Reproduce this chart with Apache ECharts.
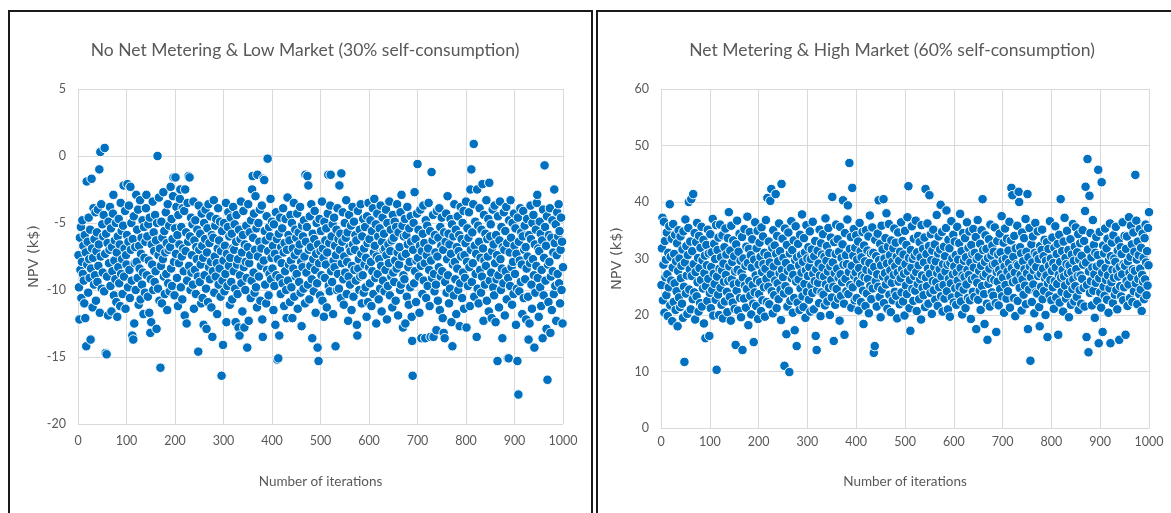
<!DOCTYPE html>
<html>
<head>
<meta charset="utf-8">
<script src="https://cdn.jsdelivr.net/npm/echarts@6/dist/echarts.min.js"></script>
<style>
html,body{margin:0;padding:0;background:#fff;}
#chart{width:1171px;height:513px;}
</style>
</head>
<body>
<div id="chart"></div>
<script>
// Titles and labels
var titleLeft = "No Net Metering & Low Market (30% self-consumption)";
var titleRight = "Net Metering & High Market (60% self-consumption)";
var xAxisName = "Number of iterations";
var yAxisName = "NPV (k$)";
var xTicks = [0,100,200,300,400,500,600,700,800,900,1000];
var yTicksLeft = [-20,-15,-10,-5,0,5];
var yTicksRight = [0,10,20,30,40,50,60];

// NPV (k$) per iteration, left chart (iterations 1..1000)
var npvLow = [
-7.4,-9.8,-12.2,-6.1,-8.5,-5.3,-10.6,-7.9,-4.8,-8.8,
-6.7,-9.3,-11.0,-5.9,-12.1,-7.2,-14.2,-1.9,-8.1,-6.4,
-10.2,-4.6,-7.7,-9.1,-5.5,-13.7,-8.4,-1.7,-6.9,-11.3,
-7.6,-3.9,-9.6,-6.2,-8.9,-4.2,-10.8,-7.1,-5.7,-9.4,
-4.0,-8.2,-6.6,-1.0,-11.7,0.3,-7.5,-3.6,-9.9,-5.1,
-8.7,-6.0,-4.4,-10.1,0.6,-7.3,-14.7,-5.8,-14.8,-9.0,
-6.5,-11.9,-4.9,-8.0,-7.0,-3.8,-9.7,-5.4,-11.6,-6.8,
-8.6,-4.3,-2.9,-10.4,-7.8,-6.3,-9.2,-5.0,-10.9,-7.2,
-12.0,-6.0,-8.3,-4.7,-9.5,-6.6,-11.2,-3.5,-8.8,-5.6,
-7.7,-10.3,-5.2,-2.2,-9.0,-6.9,-4.1,-11.4,-7.4,-8.1,
-5.9,-2.1,-9.8,-6.4,-3.7,-8.5,-10.6,-2.3,-7.0,-5.0,
-9.3,-13.4,-6.2,-13.7,-4.5,-12.5,-8.0,-6.8,-10.0,-2.9,
-7.9,-5.5,-9.1,-4.0,-11.1,-6.7,-8.4,-3.3,-10.7,-7.3,
-6.1,-9.6,-4.8,-8.7,-11.8,-5.3,-7.6,-10.2,-6.4,-3.9,
-2.9,-8.9,-6.0,-10.5,-5.1,-7.8,-11.7,-4.6,-13.2,-9.2,
-12.4,-6.6,-8.1,-3.4,-10.0,-5.7,-7.1,-9.4,-4.4,-8.6,
-6.3,-12.9,-5.0,0.0,-9.9,-7.4,-3.1,-10.8,-6.9,-15.8,
-8.2,-4.9,-11.0,-6.1,-7.7,-2.7,-9.0,-5.6,-10.3,-7.2,
-4.2,-8.8,-6.5,-11.5,-3.6,-9.5,-7.0,-5.2,-10.1,-6.8,
-2.3,-8.4,-4.7,-9.7,-6.2,-3.0,-1.6,-7.9,-10.4,-5.4,
-1.6,-7.3,-3.8,-9.1,-5.9,-11.2,-4.4,-8.0,-6.6,-3.2,
-2.5,-9.8,-5.3,-7.5,-10.7,-3.9,-6.9,-8.6,-4.1,-11.9,
-2.5,-7.1,-5.7,-12.5,-9.3,-3.5,-6.4,-1.5,-8.2,-1.6,
-6.0,-10.0,-4.6,-8.7,-7.4,-5.1,-9.6,-3.4,-11.4,-6.3,
-8.5,-4.8,-10.3,-6.8,-7.7,-5.5,-9.0,-14.6,-3.7,-7.0,
-9.4,-5.8,-8.1,-11.0,-4.3,-6.7,-10.6,-7.6,-12.6,-5.0,
-8.9,-6.2,-4.0,-9.9,-12.9,-7.2,-5.4,-10.9,-3.6,-8.3,
-6.5,-9.2,-4.5,-7.9,-11.3,-5.9,-13.5,-8.6,-6.1,-3.3,
-10.2,-7.5,-5.2,-9.0,-4.7,-8.0,-11.8,-6.9,-3.9,-9.6,
-6.3,-8.4,-4.9,-10.5,-7.1,-16.4,-5.6,-9.3,-14.1,-7.8,
-5.0,-10.1,-6.7,-8.8,-3.5,-12.4,-7.3,-9.7,-5.3,-4.2,
-8.2,-6.0,-11.1,-7.6,-4.6,-9.4,-5.8,-10.7,-6.9,-3.8,
-8.6,-7.0,-5.1,-9.9,-12.4,-6.4,-4.4,-8.1,-10.3,-7.7,
-12.8,-5.5,-13.4,-8.9,-6.2,-3.4,-9.5,-7.2,-11.6,-5.9,
-4.1,-8.3,-12.8,-6.6,-10.0,-7.9,-5.2,-9.1,-14.3,-6.8,
-3.6,-12.3,-8.0,-5.7,-7.4,-10.6,-4.8,-9.3,-2.5,-1.5,
-6.1,-8.7,-4.3,-10.2,-7.0,-3.0,-9.8,-5.4,-11.3,-1.4,
-7.5,-5.0,-9.0,-6.4,-4.0,-10.8,-8.2,-6.9,-3.7,-12.2,
-13.5,-1.7,-7.8,-1.8,-5.6,-9.6,-6.3,-11.0,-4.5,-8.5,
-0.2,-7.1,-10.4,-5.3,-8.8,-6.0,-3.2,-9.2,-7.6,-4.9,
-8.4,-6.7,-11.5,-5.1,-9.7,-7.3,-12.6,-4.2,-8.9,-6.2,
-15.2,-7.7,-15.1,-5.8,-13.4,-9.1,-4.6,-10.3,-6.8,-8.0,
-5.4,-9.5,-3.9,-7.2,-11.2,-6.5,-8.6,-4.7,-10.0,-12.1,
-7.0,-3.1,-9.3,-5.9,-8.1,-6.3,-10.9,-4.4,-7.8,-9.8,
-5.0,-12.1,-6.9,-8.4,-3.5,-10.5,-7.4,-5.5,-9.0,-6.1,
-8.8,-4.3,-11.4,-7.1,-5.7,-9.4,-6.6,-3.8,-10.2,-7.9,
-12.7,-5.2,-8.3,-6.0,-9.9,-4.8,-7.5,-11.0,-1.4,-6.4,
-8.7,-5.3,-1.5,-9.6,-2.2,-7.0,-10.7,-4.5,-8.2,-6.8,
-3.6,-9.2,-13.6,-5.8,-7.7,-10.1,-6.2,-4.1,-8.5,-11.7,
-7.3,-5.0,-9.5,-14.3,-6.6,-15.3,-8.0,-4.7,-10.4,-7.1,
-5.6,-8.9,-3.4,-10.8,-6.9,-7.6,-12.0,-4.9,-9.1,-6.3,
-8.1,-5.4,-11.3,-7.2,-4.3,-1.4,-9.7,-6.5,-10.1,-3.7,
-1.4,-8.6,-6.0,-9.4,-5.1,-11.8,-7.8,-4.6,-8.3,-6.7,
-14.2,-7.4,-5.5,-10.0,-3.9,-8.8,-6.2,-9.9,-2.2,-7.0,
-5.8,-10.6,-1.3,-8.0,-6.4,-4.2,-9.2,-11.1,-7.5,-5.0,
-8.7,-6.1,-3.3,-10.3,-7.9,-5.7,-12.3,-9.0,-4.4,-6.8,
-9.6,-7.1,-5.2,-11.5,-8.2,-3.8,-6.6,-10.5,-4.9,-8.5,
-7.0,-5.9,-9.3,-6.3,-12.6,-13.4,-4.1,-8.4,-7.7,-10.0,
-5.5,-9.0,-3.6,-7.3,-11.0,-6.0,-8.9,-4.7,-10.2,-6.9,
-8.1,-5.3,-9.8,-7.6,-12.0,-4.5,-6.5,-10.9,-3.5,-8.3,
-6.2,-9.5,-4.8,-7.9,-11.2,-5.6,-8.6,-3.9,-10.3,-7.2,
-3.2,-6.7,-9.1,-5.1,-12.5,-7.5,-4.3,-8.8,-6.0,-10.7,
-7.7,-5.4,-9.9,-3.7,-8.2,-11.6,-6.4,-4.6,-9.3,-7.0,
-5.8,-10.1,-6.9,-8.5,-4.0,-7.4,-12.2,-5.0,-9.7,-6.6,
-8.0,-3.4,-10.4,-7.1,-5.5,-9.0,-6.3,-11.3,-4.4,-8.7,
-6.1,-9.4,-4.9,-7.8,-10.8,-5.3,-8.4,-3.6,-7.2,-11.9,
-5.7,-8.1,-6.8,-10.0,-4.2,-9.6,-2.9,-7.5,-5.2,-12.8,
-8.9,-6.0,-9.2,-4.7,-12.5,-7.3,-5.9,-10.5,-3.8,-6.6,
-8.3,-11.1,-5.4,-7.9,-9.8,-4.5,-6.4,-12.0,-13.8,-16.4,
-7.0,-5.0,-9.5,-2.7,-8.6,-6.2,-10.9,-7.8,-4.3,-0.6,
-7.6,-5.5,-9.0,-11.7,-6.7,-4.0,-8.2,-13.6,-7.1,-10.3,
-5.8,-3.7,-9.3,-6.5,-8.0,-13.6,-4.8,-10.6,-7.4,-5.2,
-9.7,-6.9,-3.5,-8.5,-11.2,-5.6,-13.5,-7.8,-1.2,-9.1,
-6.3,-4.4,-13.5,-8.8,-10.1,-5.9,-7.2,-9.6,-13.0,-4.1,
-7.5,-10.8,-6.1,-8.3,-3.9,-11.5,-5.3,-9.0,-6.7,-4.6,
-8.6,-12.1,-7.0,-13.2,-5.7,-13.6,-9.4,-6.4,-4.3,-10.2,
-7.7,-3.0,-8.9,-5.8,-11.0,-6.6,-9.9,-4.7,-7.3,-12.4,
-5.1,-14.2,-8.1,-6.0,-10.4,-3.6,-7.9,-9.2,-5.5,-11.8,
-6.8,-8.4,-4.5,-10.0,-7.1,-5.9,-12.7,-9.5,-3.8,-7.5,
-6.2,-10.6,-5.0,-8.7,-4.1,-11.4,-7.4,-9.1,-6.5,-3.4,
-12.8,-7.9,-5.4,-9.7,-6.1,-4.2,-8.3,-11.2,-2.5,-7.0,
-1.0,-9.4,-5.7,-8.0,-3.6,0.9,-10.5,-6.7,-4.9,-8.8,
-7.3,-13.5,-2.5,-9.9,-5.2,-11.0,-6.4,-3.9,-8.5,-7.6,
-10.2,-5.5,-9.0,-2.1,-6.9,-12.3,-4.4,-7.8,-9.6,-5.8,
-8.2,-3.3,-10.8,-6.2,-7.5,-4.7,-11.6,-2.0,-9.3,-6.0,
-5.1,-8.7,-12.1,-7.1,-4.0,-9.8,-6.6,-10.4,-3.7,-8.0,
-12.4,-5.9,-9.2,-7.4,-15.3,-4.5,-8.9,-11.3,-6.3,-3.4,
-7.7,-10.0,-5.3,-8.4,-13.6,-6.8,-9.5,-4.2,-7.0,-11.9,
-5.6,-8.6,-3.8,-10.7,-6.5,-15.1,-9.1,-15.1,-4.8,-7.2,
-9.7,-3.3,-6.1,-8.3,-11.1,-5.0,-7.9,-10.3,-4.3,-6.7,
-8.8,-5.4,-12.6,-7.3,-9.9,-15.3,-4.6,-17.8,-6.4,-10.1,
-7.8,-3.9,-9.4,-5.7,-8.1,-11.8,-6.0,-4.1,-10.6,-7.0,
-5.2,-9.2,-6.8,-12.2,-8.4,-4.7,-7.5,-10.5,-13.7,-5.9,
-12.5,-8.0,-3.7,-6.2,-9.6,-11.4,-5.0,-7.7,-4.4,-8.9,
-14.3,-6.6,-10.2,-5.5,-8.2,-3.5,-2.9,-9.1,-6.9,-12.0,
-7.1,-4.9,-9.8,-5.8,-11.2,-8.5,-6.3,-13.6,-4.0,-10.4,
-7.6,-0.7,-5.3,-9.3,-6.7,-12.9,-4.5,-16.7,-8.1,-10.9,
-5.9,-7.9,-3.9,-13.2,-9.0,-6.1,-11.5,-4.8,-8.6,-7.2,
-10.3,-2.5,-6.5,-9.7,-5.1,-12.3,-7.4,-4.2,-8.8,-6.0,
-3.6,-9.5,-5.6,-11.0,-7.0,-4.6,-10.0,-6.4,-12.5,-8.3
];

// NPV (k$) per iteration, right chart (iterations 1..1000)
var npvHigh = [
25.3,31.8,37.2,22.6,28.9,36.5,20.4,33.1,26.7,29.8,
23.5,34.6,27.2,19.8,31.0,24.9,35.7,39.6,21.7,30.3,
26.1,33.5,18.9,28.4,36.1,22.3,30.8,25.6,34.2,20.9,
29.5,24.2,32.7,18.0,27.8,35.0,23.1,30.0,21.4,33.9,
26.5,28.7,22.0,31.6,19.5,34.8,25.0,11.7,29.3,36.9,
23.8,32.2,27.0,20.2,30.6,35.4,40.0,24.5,28.1,33.0,
21.0,40.5,26.9,31.3,22.8,41.4,29.0,24.0,34.5,19.2,
27.6,32.9,23.3,36.3,25.8,30.1,20.6,34.0,28.3,22.1,
31.9,26.2,35.6,21.5,29.7,24.7,33.3,18.5,27.4,30.5,
15.9,25.1,32.4,28.8,22.5,35.1,26.4,30.9,16.3,23.9,
34.3,21.2,28.5,31.1,24.4,37.0,19.9,27.3,32.6,25.5,
29.9,22.7,35.9,10.3,26.8,31.5,23.6,33.7,20.0,28.2,
36.0,24.8,30.2,21.8,27.9,34.1,19.4,29.1,25.9,32.0,
22.4,35.3,27.1,30.7,24.1,20.5,33.6,26.0,38.2,28.6,
23.2,31.4,19.0,35.8,26.3,29.4,22.2,33.2,25.4,30.4,
21.1,27.7,14.7,32.5,24.3,36.7,28.0,20.8,31.2,25.7,
34.4,23.0,29.6,19.6,27.5,33.8,13.8,26.6,30.0,22.9,
35.2,25.2,28.7,21.3,32.1,24.6,37.4,29.2,18.2,31.7,
26.0,34.7,23.4,30.6,20.1,28.4,33.4,25.3,22.0,15.2,
29.8,24.0,36.4,27.0,21.6,31.8,26.2,34.9,19.3,28.9,
23.7,32.8,25.8,30.3,20.7,35.5,27.6,22.6,33.9,29.0,
24.9,31.0,19.7,28.2,36.8,26.4,22.3,40.7,30.5,25.0,
33.0,21.9,29.3,40.2,27.2,42.3,24.2,31.9,20.3,35.0,
28.6,23.5,32.3,26.1,41.4,30.8,21.2,34.0,25.6,29.5,
22.8,36.2,27.4,31.3,24.5,19.1,43.2,28.0,33.5,26.7,
30.1,23.8,11.0,35.3,25.1,29.2,16.6,32.4,21.5,27.8,
34.6,24.3,9.9,30.9,22.5,28.3,36.6,26.5,31.5,20.4,
27.1,33.2,23.0,17.3,29.7,35.7,25.9,14.5,30.2,22.2,
32.6,26.3,28.8,20.9,34.2,24.7,30.6,27.5,37.8,23.3,
29.4,21.4,33.6,25.5,31.1,19.5,27.9,35.9,24.1,30.0,
26.9,32.0,22.7,28.5,34.8,20.6,29.9,25.2,31.6,23.9,
36.5,27.3,21.0,30.4,26.0,33.1,16.3,28.1,13.8,24.4,
31.4,25.7,29.1,22.1,35.1,27.0,19.8,32.7,24.0,30.7,
28.4,34.3,23.6,26.8,30.3,21.7,37.1,25.4,29.6,32.2,
22.4,27.7,35.4,24.8,31.0,20.0,28.6,33.7,26.2,23.1,
40.9,29.3,25.0,15.4,32.9,27.4,21.8,30.8,36.0,24.6,
28.2,33.4,22.9,26.6,31.2,19.0,35.6,27.2,23.4,30.1,
25.8,32.5,40.3,28.9,22.0,16.5,34.5,26.4,30.6,24.2,
29.0,36.9,39.4,23.7,27.6,46.9,31.7,25.3,33.8,21.3,
28.7,42.5,24.9,30.5,35.2,26.9,22.6,31.9,27.5,34.1,
23.0,29.8,26.1,33.0,20.8,28.3,36.3,25.6,31.3,22.3,
30.2,27.0,34.7,24.3,18.4,32.3,26.7,29.5,21.6,35.0,
28.0,23.8,31.4,26.4,33.9,20.3,29.2,37.6,25.1,30.9,
22.8,27.8,35.5,24.7,31.0,13.3,28.5,14.5,33.3,26.0,
30.4,21.5,27.2,34.4,25.0,40.3,29.7,23.2,32.6,19.6,
28.8,35.8,24.5,31.6,26.8,40.5,22.1,30.0,27.4,33.6,
25.4,38.0,29.1,21.1,32.1,26.3,36.1,23.6,30.6,27.9,
20.5,33.2,25.7,29.4,22.6,31.8,27.1,35.3,24.1,28.6,
32.8,23.4,30.3,19.4,27.5,34.6,25.9,29.6,21.9,31.2,
26.5,36.4,24.0,28.1,33.1,22.4,30.7,27.3,19.9,34.9,
29.0,25.2,32.4,23.7,37.3,27.7,42.8,30.1,21.2,26.2,
17.2,31.5,28.4,35.7,24.6,29.9,22.5,33.5,26.9,30.5,
24.3,36.7,27.6,20.7,31.1,25.5,34.0,28.8,22.8,32.9,
26.3,30.2,19.2,35.9,27.0,24.8,31.7,23.5,29.3,33.7,
21.4,42.3,26.6,30.8,25.1,36.2,28.2,22.0,32.2,41.2,
27.3,23.9,34.3,29.7,20.2,31.4,26.0,35.1,24.4,28.5,
32.5,22.7,29.5,25.8,37.7,27.4,21.6,30.9,33.9,24.9,
28.1,31.6,39.5,23.3,26.8,34.7,20.6,29.0,25.3,32.1,
22.9,30.4,27.7,35.4,38.5,24.2,28.9,21.0,33.3,26.4,
31.8,19.7,29.2,25.6,36.6,23.1,30.0,27.2,34.2,22.2,
28.6,33.0,24.7,30.6,21.8,27.5,35.6,26.1,29.8,23.6,
32.7,25.0,37.9,28.3,22.4,31.3,20.1,27.0,34.5,24.5,
29.6,26.7,33.6,21.2,30.2,25.4,36.4,28.0,23.0,31.9,
27.1,34.8,22.6,29.3,19.3,32.4,26.3,30.8,24.1,35.2,
28.4,23.2,31.0,26.6,33.8,17.5,29.9,25.7,36.8,22.7,
30.3,27.8,24.3,32.6,20.9,28.7,35.0,25.1,40.5,31.5,
26.9,23.7,18.4,29.4,34.1,27.3,31.7,22.0,15.6,30.1,
25.5,33.4,28.2,21.5,36.0,26.4,30.5,24.0,32.3,28.9,
23.4,31.2,26.2,35.5,29.1,22.1,17.0,27.6,33.1,25.9,
30.7,21.7,28.0,34.4,24.6,31.1,27.2,37.5,23.3,29.7,
26.6,32.8,20.4,28.6,35.3,25.3,30.0,22.9,33.5,27.7,
24.2,31.4,29.2,36.5,21.3,26.8,33.2,42.5,28.3,41.2,
25.8,30.3,23.0,34.0,27.5,19.8,31.8,26.1,29.0,35.8,
22.5,28.8,41.8,40.0,24.8,32.0,27.1,30.9,20.8,34.6,
26.3,29.5,23.6,33.6,28.1,25.2,37.0,21.9,31.2,27.4,
41.4,17.5,30.2,24.5,35.4,28.6,11.9,26.7,32.5,22.3,
29.3,33.9,25.4,27.9,20.3,31.0,36.3,24.0,28.5,30.6,
23.8,34.8,26.9,29.9,21.4,18.0,32.2,27.3,25.0,31.5,
35.1,22.8,28.2,30.4,24.3,33.3,26.5,20.0,29.6,27.0,
32.9,16.1,25.6,31.7,28.7,23.5,36.6,26.2,30.0,22.6,
27.8,33.7,24.9,29.2,21.1,31.9,26.0,35.7,28.4,23.1,
30.8,25.5,32.6,16.5,27.1,34.2,22.2,29.4,40.5,26.6,
24.1,31.3,28.0,20.6,33.0,26.8,37.2,25.2,30.1,22.9,
29.0,34.9,23.7,27.4,31.5,19.6,28.8,25.9,33.4,21.8,
27.6,30.7,24.6,36.1,26.3,29.6,22.4,32.1,25.1,35.5,
28.1,23.2,31.1,26.9,34.3,20.9,29.8,24.4,32.7,27.0,
22.0,30.5,26.4,35.0,28.9,24.8,33.1,21.5,38.4,42.7,
29.3,16.1,25.3,47.6,31.6,13.4,27.7,41.1,23.9,34.5,
26.0,30.2,21.7,28.4,36.8,24.3,32.4,27.2,19.5,31.0,
25.7,33.8,28.6,22.5,30.6,45.7,15.0,26.5,34.7,24.0,
29.1,21.3,43.5,27.5,17.0,32.3,25.0,30.9,23.4,35.3,
28.3,26.2,31.8,22.7,33.5,27.0,20.4,29.7,24.7,36.2,
15.0,30.4,25.8,32.8,28.0,22.1,34.1,26.6,30.0,23.6,
29.4,35.6,24.4,27.9,21.0,31.4,26.8,33.2,15.6,28.5,
25.1,32.0,23.3,30.8,27.2,36.4,22.6,29.0,24.9,34.0,
28.7,16.5,31.7,26.0,33.9,21.6,29.5,25.4,37.3,27.5,
23.0,30.3,35.8,26.7,32.5,22.3,28.1,34.6,24.2,31.2,
27.8,44.8,25.6,36.7,29.8,21.9,33.0,26.4,30.6,23.7,
35.2,28.2,24.5,31.9,20.7,27.1,34.4,25.9,30.1,22.8,
33.6,26.3,36.0,29.3,23.5,31.3,25.2,35.4,28.8,38.2
];

function toPairs(arr){ return arr.map(function(v,i){ return [i+1, v]; }); }

var FONT = "Lato, 'DejaVu Sans Condensed', sans-serif";
var GREY = '#595959';
var GRID = '#d9d9d9';

function xAxisFor(idx, margin, gap){
  return {
    gridIndex: idx, type: 'value', min: xTicks[0], max: xTicks[xTicks.length-1], interval: 100,
    name: xAxisName, nameLocation: 'middle', nameGap: gap,
    nameTextStyle: {color: GREY, fontSize: 13.5, fontFamily: FONT},
    axisLine: {show: true, lineStyle: {color: GRID, width: 1}},
    axisTick: {show: false},
    axisLabel: {color: GREY, fontSize: 12.5, fontFamily: FONT, margin: margin,
      formatter: function(v){ return String(v); }},
    splitLine: {show: true, lineStyle: {color: GRID, width: 1}}
  };
}
function yAxisFor(idx, ticks){
  return {
    gridIndex: idx, type: 'value', min: ticks[0], max: ticks[ticks.length-1],
    interval: ticks[1]-ticks[0],
    name: yAxisName, nameLocation: 'middle', nameGap: 36, nameRotate: 90,
    nameTextStyle: {color: GREY, fontSize: 14.5, fontFamily: "'DejaVu Sans',sans-serif"},
    axisLine: {show: false}, axisTick: {show: false},
    axisLabel: {color: GREY, fontSize: 12.5, fontFamily: FONT, margin: 12,
      formatter: function(v){ return String(v); }},
    splitLine: {show: true, lineStyle: {color: GRID, width: 1}}
  };
}
var markerStyle = {color: '#0070C0', borderColor: '#ffffff', borderWidth: 1, opacity: 1};

var chart = echarts.init(document.getElementById('chart'));
chart.setOption({
  animation: false,
  backgroundColor: '#ffffff',
  title: [
    {text: titleLeft, left: 300, top: 36, textAlign: 'center',
     textStyle: {color: GREY, fontSize: 17.5, fontWeight: 'normal', fontFamily: FONT}},
    {text: titleRight, left: 887, top: 36, textAlign: 'center',
     textStyle: {color: GREY, fontSize: 17.5, fontWeight: 'normal', fontFamily: FONT}}
  ],
  graphic: [
    {type: 'rect', shape: {x: 9, y: 11, width: 583, height: 520}, style: {fill: 'none', stroke: '#1a1a1a', lineWidth: 2}, z: 100},
    {type: 'rect', shape: {x: 597, y: 11, width: 600, height: 520}, style: {fill: 'none', stroke: '#1a1a1a', lineWidth: 2}, z: 100}
  ],
  grid: [
    {left: 78, top: 89, width: 485, height: 335},
    {left: 661, top: 89, width: 488, height: 339}
  ],
  xAxis: [xAxisFor(0, 10, 51), xAxisFor(1, 7, 47)],
  yAxis: [yAxisFor(0, yTicksLeft), yAxisFor(1, yTicksRight)],
  series: [
    {type: 'scatter', xAxisIndex: 0, yAxisIndex: 0, data: toPairs(npvLow), symbolSize: 9.5, itemStyle: markerStyle},
    {type: 'scatter', xAxisIndex: 1, yAxisIndex: 1, data: toPairs(npvHigh), symbolSize: 9.5, itemStyle: markerStyle}
  ]
});
</script>
</body>
</html>
